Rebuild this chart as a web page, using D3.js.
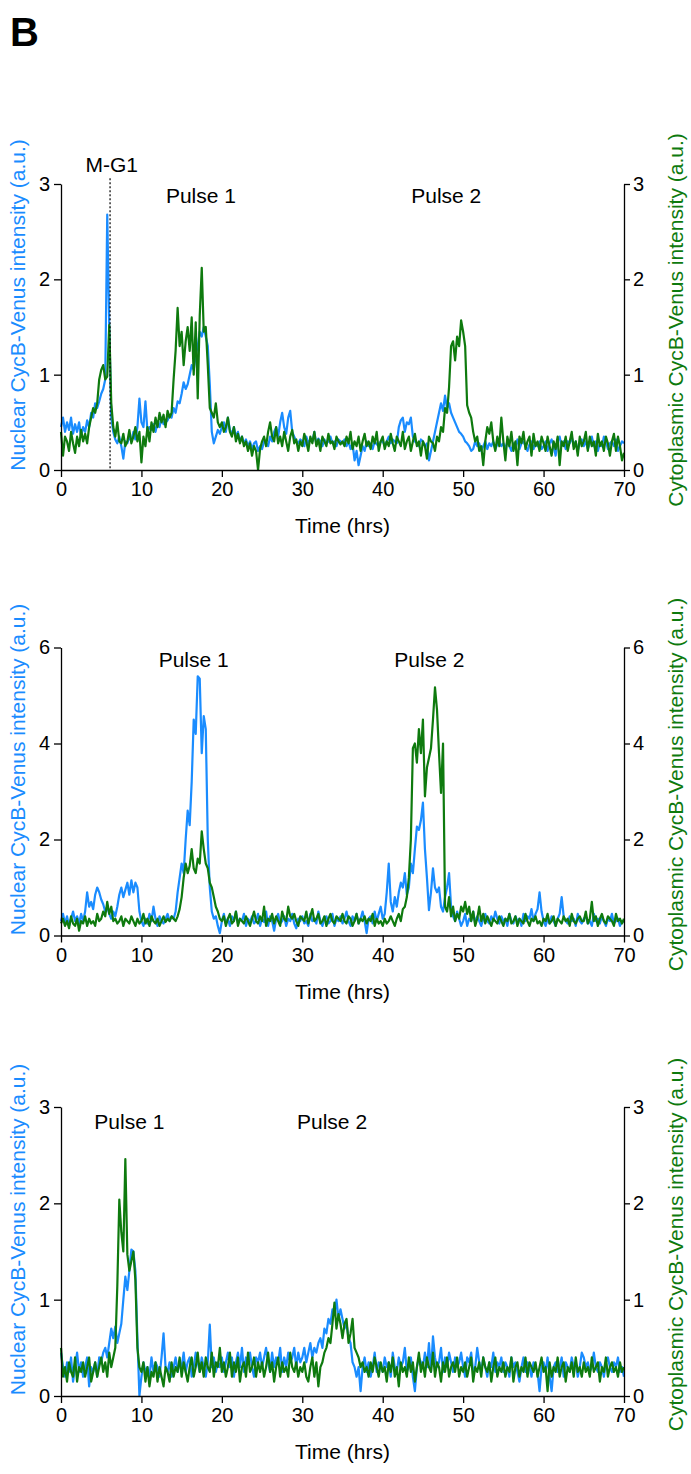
<!DOCTYPE html>
<html>
<head>
<meta charset="utf-8">
<script src="https://cdn.jsdelivr.net/npm/d3@7"></script>
<style>
  body { margin: 0; background: #fff; }
  svg { display: block; }
  text { font-family: "Liberation Sans", Arial, sans-serif; }
</style>
</head>
<body>
<div id="chart"></div>
<script>
const width = 691;
const height = 1474;
const step = 0.25; // hrs between samples

const xTicks = [0, 10, 20, 30, 40, 50, 60, 70];
const yTicks3 = [0, 1, 2, 3];
const yTicks6 = [0, 2, 4, 6];

// --- Panel 1 ---
const nuclear1 = [
  0.45,0.55,0.4,0.5,0.42,0.55,0.38,0.48,0.4,0.5,0.35,0.45,0.4,0.52,0.45,0.6,0.55,0.7,0.65,0.72,
  0.8,0.85,0.95,2.68,1.5,0.55,0.4,0.32,0.28,0.35,0.25,0.12,0.3,0.28,0.35,0.3,0.4,0.32,0.45,0.75,
  0.5,0.45,0.72,0.4,0.45,0.42,0.48,0.4,0.5,0.45,0.55,0.48,0.5,0.52,0.58,0.55,0.65,0.6,0.72,0.7,
  0.8,0.92,0.85,0.9,1.0,1.1,1.05,1.2,1.3,1.45,1.4,1.5,1.4,1.3,0.9,0.4,0.28,0.35,0.42,0.38,
  0.45,0.5,0.4,0.55,0.42,0.38,0.45,0.35,0.4,0.3,0.35,0.28,0.32,0.25,0.3,0.22,0.28,0.3,0.2,0.25,
  0.22,0.3,0.28,0.25,0.35,0.3,0.4,0.45,0.35,0.5,0.6,0.45,0.38,0.55,0.62,0.4,0.35,0.3,0.28,0.32,
  0.3,0.25,0.35,0.28,0.32,0.3,0.4,0.27,0.33,0.3,0.25,0.32,0.28,0.3,0.35,0.28,0.3,0.25,0.32,0.3,
  0.28,0.32,0.25,0.3,0.22,0.28,0.1,0.2,0.05,0.15,0.25,0.2,0.3,0.25,0.28,0.22,0.3,0.27,0.25,0.3,
  0.3,0.25,0.3,0.35,0.28,0.32,0.3,0.28,0.45,0.52,0.55,0.4,0.5,0.48,0.55,0.35,0.3,0.28,0.25,0.32,
  0.3,0.25,0.28,0.1,0.2,0.3,0.4,0.5,0.6,0.7,0.62,0.78,0.65,0.7,0.6,0.55,0.5,0.45,0.4,0.38,
  0.35,0.3,0.28,0.25,0.2,0.22,0.3,0.25,0.28,0.2,0.25,0.3,0.22,0.28,0.25,0.3,0.22,0.27,0.3,0.25,
  0.28,0.22,0.3,0.25,0.2,0.28,0.25,0.32,0.22,0.28,0.3,0.25,0.2,0.27,0.3,0.22,0.28,0.25,0.3,0.22,
  0.25,0.3,0.2,0.28,0.32,0.25,0.15,0.3,0.35,0.25,0.3,0.22,0.3,0.28,0.35,0.25,0.3,0.2,0.28,0.32,
  0.25,0.3,0.22,0.28,0.35,0.25,0.3,0.2,0.28,0.25,0.35,0.3,0.22,0.28,0.3,0.25,0.32,0.2,0.25,0.3,
  0.28
];
const cyto1 = [
  0.4,0.15,0.35,0.3,0.2,0.4,0.28,0.18,0.35,0.25,0.42,0.3,0.38,0.28,0.45,0.55,0.65,0.6,0.7,0.95,
  1.05,1.1,0.95,0.98,1.52,0.7,0.45,0.35,0.5,0.3,0.28,0.38,0.25,0.3,0.42,0.28,0.35,0.45,0.3,0.4,
  0.08,0.35,0.25,0.45,0.3,0.5,0.4,0.55,0.45,0.6,0.5,0.58,0.45,0.62,0.55,0.6,0.95,1.25,1.7,1.3,
  1.45,1.1,1.35,1.5,1.25,1.6,1.0,1.55,0.75,1.62,2.12,1.45,1.5,1.1,0.65,0.6,0.55,0.7,0.5,0.45,
  0.5,0.4,0.45,0.55,0.4,0.35,0.45,0.3,0.38,0.28,0.35,0.25,0.3,0.2,0.28,0.15,0.25,0.2,0.0,0.22,
  0.3,0.35,0.25,0.4,0.5,0.35,0.3,0.45,0.28,0.35,0.25,0.4,0.3,0.2,0.35,0.42,0.28,0.32,0.2,0.3,
  0.25,0.38,0.3,0.2,0.35,0.28,0.4,0.25,0.32,0.2,0.35,0.3,0.25,0.38,0.28,0.3,0.22,0.35,0.3,0.27,
  0.3,0.25,0.35,0.28,0.4,0.22,0.3,0.25,0.35,0.2,0.3,0.38,0.25,0.3,0.22,0.35,0.28,0.4,0.2,0.3,
  0.35,0.22,0.3,0.25,0.38,0.28,0.2,0.35,0.3,0.25,0.4,0.22,0.3,0.35,0.2,0.3,0.38,0.25,0.3,0.15,
  0.3,0.25,0.12,0.35,0.3,0.28,0.2,0.35,0.3,0.45,0.4,0.65,0.6,0.87,1.3,1.35,1.15,1.4,1.3,1.57,
  1.45,1.3,0.68,0.6,0.55,0.4,0.3,0.35,0.2,0.25,0.05,0.3,0.45,0.38,0.5,0.3,0.2,0.35,0.25,0.55,
  0.3,0.1,0.35,0.25,0.4,0.2,0.3,0.05,0.35,0.28,0.4,0.22,0.3,0.35,0.15,0.38,0.25,0.3,0.2,0.35,
  0.28,0.2,0.35,0.25,0.15,0.3,0.22,0.35,0.05,0.3,0.25,0.35,0.2,0.3,0.4,0.22,0.3,0.15,0.35,0.25,
  0.3,0.4,0.2,0.35,0.25,0.3,0.15,0.38,0.25,0.3,0.2,0.35,0.28,0.15,0.3,0.38,0.2,0.35,0.25,0.1,
  0.18
];

// --- Panel 2 ---
const nuclear2 = [
  0.3,0.45,0.25,0.4,0.2,0.35,0.5,0.3,0.4,0.25,0.45,0.3,0.5,0.9,0.6,0.7,0.55,0.85,1.0,0.9,
  0.75,0.65,0.5,0.6,0.45,0.35,0.5,0.4,0.6,0.85,1.0,0.8,0.95,1.1,0.85,1.15,0.9,1.1,1.0,0.5,
  0.3,0.2,0.35,0.25,0.45,0.3,0.6,0.35,0.2,0.4,0.3,0.25,0.35,0.45,0.3,0.4,0.35,0.5,0.9,1.2,
  1.5,1.3,2.0,2.6,2.3,3.2,4.5,4.2,5.4,5.35,3.8,4.57,4.3,2.0,1.0,0.5,0.35,0.4,0.2,0.05,
  0.3,0.45,0.25,0.35,0.2,0.4,0.3,0.5,0.25,0.35,0.3,0.45,0.2,0.35,0.28,0.4,0.25,0.3,0.45,0.2,
  0.35,0.28,0.5,0.2,0.4,0.3,0.1,0.35,0.45,0.25,0.3,0.4,0.2,0.35,0.3,0.45,0.25,0.15,0.35,0.3,
  0.4,0.25,0.3,0.2,0.45,0.3,0.35,0.25,0.5,0.3,0.2,0.35,0.4,0.25,0.3,0.45,0.2,0.35,0.3,0.4,
  0.25,0.35,0.5,0.3,0.2,0.4,0.3,0.45,0.25,0.35,0.5,0.3,0.05,0.35,0.4,0.25,0.5,0.3,0.45,0.6,
  0.35,0.45,0.9,1.5,0.7,0.5,0.8,0.6,0.9,1.1,1.0,1.3,0.85,1.0,1.5,1.3,1.8,2.27,2.2,2.4,
  2.77,1.8,1.2,0.53,0.9,1.4,1.0,0.9,1.0,0.6,0.5,0.8,1.0,1.3,0.6,0.4,0.3,0.5,0.35,0.2,
  0.3,0.45,0.2,0.35,0.3,0.5,0.25,0.4,0.3,0.2,0.35,0.45,0.3,0.25,0.4,0.3,0.5,0.35,0.25,0.4,
  0.3,0.35,0.2,0.45,0.3,0.25,0.4,0.3,0.35,0.2,0.45,0.3,0.4,0.35,0.55,0.3,0.45,0.55,0.9,0.5,
  0.3,0.2,0.35,0.25,0.4,0.3,0.2,0.35,0.45,0.8,0.4,0.3,0.25,0.4,0.3,0.35,0.2,0.45,0.3,0.25,
  0.35,0.4,0.25,0.3,0.2,0.45,0.3,0.35,0.25,0.4,0.3,0.2,0.35,0.3,0.45,0.25,0.3,0.35,0.2,0.3,
  0.28
];
const cyto2 = [
  0.25,0.35,0.2,0.3,0.15,0.4,0.25,0.2,0.35,0.1,0.3,0.25,0.4,0.2,0.35,0.25,0.3,0.2,0.45,0.3,
  0.35,0.5,0.4,0.7,0.45,0.6,0.3,0.35,0.25,0.3,0.4,0.2,0.35,0.3,0.25,0.4,0.3,0.2,0.35,0.25,
  0.3,0.45,0.25,0.35,0.2,0.4,0.3,0.25,0.35,0.2,0.3,0.4,0.28,0.35,0.3,0.4,0.35,0.3,0.4,0.55,
  0.8,1.2,1.5,1.3,1.45,1.8,1.4,1.3,1.6,1.5,2.17,1.8,1.5,1.4,1.1,1.0,0.8,0.6,0.5,0.35,
  0.3,0.4,0.2,0.35,0.45,0.25,0.3,0.5,0.2,0.35,0.3,0.25,0.4,0.3,0.2,0.35,0.5,0.3,0.25,0.4,
  0.3,0.6,0.2,0.35,0.3,0.45,0.25,0.4,0.3,0.2,0.5,0.35,0.3,0.6,0.4,0.35,0.45,0.3,0.2,0.4,
  0.35,0.3,0.5,0.25,0.4,0.55,0.3,0.35,0.45,0.25,0.3,0.4,0.2,0.35,0.45,0.3,0.25,0.4,0.35,0.3,
  0.45,0.3,0.25,0.4,0.35,0.2,0.3,0.45,0.25,0.35,0.3,0.4,0.25,0.35,0.3,0.45,0.2,0.35,0.25,0.3,
  0.2,0.35,0.25,0.3,0.4,0.3,0.2,0.35,0.45,0.3,0.55,0.6,0.8,1.2,2.0,3.9,4.0,3.6,4.3,3.8,
  4.5,2.9,3.5,3.7,3.9,4.5,5.17,4.7,3.8,2.97,4.0,0.6,0.5,0.8,0.4,0.6,0.3,0.45,0.35,0.6,
  0.5,0.7,0.45,0.6,0.3,0.5,0.2,0.35,0.6,0.3,0.45,0.25,0.4,0.3,0.2,0.35,0.3,0.25,0.4,0.3,
  0.2,0.35,0.3,0.45,0.25,0.3,0.4,0.2,0.35,0.3,0.25,0.45,0.3,0.2,0.35,0.3,0.4,0.25,0.3,0.2,
  0.35,0.3,0.45,0.25,0.3,0.4,0.2,0.35,0.3,0.25,0.4,0.3,0.35,0.2,0.45,0.3,0.25,0.35,0.4,0.3,
  0.3,0.5,0.25,0.35,0.7,0.3,0.4,0.2,0.35,0.45,0.3,0.25,0.4,0.35,0.3,0.2,0.45,0.3,0.35,0.25,
  0.35
];

// --- Panel 3 ---
const nuclear3 = [
  0.45,0.3,0.2,0.35,0.25,0.4,0.15,0.3,0.45,0.25,0.35,0.2,0.3,0.4,0.1,0.3,0.25,0.35,0.2,0.4,
  0.35,0.45,0.5,0.4,0.55,0.7,0.6,0.72,0.55,0.65,0.75,1.0,1.24,1.1,1.3,1.52,1.5,1.3,0.6,0.0,
  0.2,0.35,0.25,0.3,0.2,0.4,0.25,0.35,0.3,0.2,0.4,0.65,0.3,0.25,0.35,0.2,0.3,0.4,0.25,0.35,
  0.3,0.45,0.25,0.35,0.4,0.2,0.3,0.45,0.35,0.25,0.4,0.3,0.2,0.35,0.74,0.3,0.4,0.25,0.35,0.3,
  0.4,0.25,0.35,0.45,0.3,0.4,0.2,0.35,0.45,0.3,0.5,0.25,0.4,0.35,0.45,0.3,0.2,0.4,0.35,0.45,
  0.3,0.4,0.5,0.35,0.25,0.45,0.3,0.4,0.35,0.5,0.25,0.4,0.3,0.45,0.35,0.4,0.5,0.3,0.45,0.35,
  0.4,0.5,0.35,0.45,0.55,0.4,0.5,0.45,0.55,0.6,0.5,0.7,0.65,0.8,0.75,0.9,0.85,1.0,0.8,0.9,
  0.8,0.7,0.75,0.6,0.55,0.35,0.3,0.2,0.3,0.05,0.3,0.4,0.25,0.35,0.2,0.3,0.45,0.25,0.35,0.3,
  0.25,0.4,0.3,0.35,0.2,0.45,0.3,0.25,0.4,0.3,0.35,0.5,0.25,0.3,0.4,0.2,0.05,0.3,0.4,0.35,
  0.3,0.45,0.3,0.55,0.25,0.62,0.4,0.3,0.35,0.5,0.25,0.4,0.3,0.45,0.35,0.25,0.4,0.3,0.35,0.45,
  0.3,0.2,0.4,0.35,0.45,0.25,0.3,0.5,0.35,0.25,0.4,0.3,0.2,0.35,0.3,0.45,0.25,0.35,0.3,0.4,
  0.25,0.35,0.3,0.2,0.4,0.3,0.35,0.25,0.15,0.3,0.4,0.25,0.35,0.3,0.2,0.35,0.3,0.25,0.05,0.3,
  0.35,0.25,0.4,0.2,0.05,0.3,0.35,0.25,0.3,0.4,0.2,0.35,0.3,0.25,0.4,0.3,0.35,0.2,0.3,0.45,
  0.4,0.3,0.35,0.25,0.3,0.45,0.3,0.25,0.35,0.3,0.2,0.35,0.4,0.3,0.25,0.35,0.3,0.4,0.25,0.3,
  0.2
];
const cyto3 = [
  0.5,0.2,0.3,0.15,0.35,0.25,0.2,0.4,0.15,0.3,0.25,0.35,0.2,0.3,0.4,0.15,0.25,0.35,0.2,0.3,
  0.4,0.25,0.35,0.2,0.45,0.3,0.4,0.5,1.14,2.04,1.7,1.5,2.46,1.47,1.3,1.4,1.5,1.2,0.5,0.3,
  0.25,0.35,0.15,0.3,0.1,0.25,0.2,0.35,0.15,0.3,0.2,0.1,0.3,0.25,0.15,0.35,0.2,0.3,0.25,0.4,
  0.2,0.35,0.25,0.15,0.3,0.4,0.2,0.3,0.45,0.25,0.35,0.2,0.4,0.3,0.25,0.45,0.2,0.35,0.3,0.5,
  0.25,0.35,0.2,0.3,0.45,0.2,0.35,0.25,0.4,0.15,0.3,0.35,0.2,0.45,0.25,0.3,0.4,0.2,0.35,0.25,
  0.35,0.2,0.3,0.45,0.25,0.35,0.15,0.3,0.4,0.2,0.35,0.25,0.3,0.2,0.45,0.3,0.25,0.35,0.2,0.3,
  0.25,0.35,0.2,0.15,0.3,0.4,0.2,0.35,0.1,0.3,0.35,0.45,0.5,0.6,0.55,0.75,0.97,0.7,0.85,0.75,
  0.6,0.75,0.8,0.55,0.65,0.8,0.5,0.45,0.4,0.3,0.35,0.25,0.3,0.2,0.35,0.25,0.4,0.3,0.2,0.35,
  0.25,0.3,0.15,0.35,0.25,0.4,0.2,0.3,0.1,0.35,0.25,0.3,0.2,0.4,0.25,0.35,0.15,0.3,0.45,0.25,
  0.35,0.2,0.4,0.3,0.25,0.45,0.2,0.35,0.3,0.15,0.35,0.25,0.4,0.2,0.3,0.35,0.25,0.4,0.2,0.3,
  0.25,0.35,0.2,0.3,0.4,0.15,0.3,0.25,0.35,0.2,0.4,0.3,0.25,0.35,0.15,0.3,0.4,0.2,0.3,0.25,
  0.35,0.2,0.3,0.25,0.4,0.15,0.3,0.35,0.2,0.3,0.25,0.4,0.2,0.35,0.3,0.25,0.35,0.2,0.3,0.4,
  0.25,0.3,0.05,0.35,0.2,0.3,0.25,0.4,0.2,0.3,0.35,0.15,0.3,0.25,0.35,0.2,0.4,0.25,0.3,0.2,
  0.35,0.25,0.3,0.2,0.4,0.25,0.3,0.35,0.15,0.3,0.25,0.4,0.2,0.3,0.35,0.25,0.3,0.2,0.35,0.25,
  0.3
];

// Annotation text and where (time, value) it sits
const notes1 = [{ t: 6.3, v: 3.13, text: "M-G1" }, { t: 17.4, v: 2.8, text: "Pulse 1" }, { t: 47.9, v: 2.8, text: "Pulse 2" }];
const notes2 = [{ t: 16.5, v: 5.6, text: "Pulse 1" }, { t: 45.8, v: 5.6, text: "Pulse 2" }];
const notes3 = [{ t: 8.5, v: 2.77, text: "Pulse 1" }, { t: 33.7, v: 2.77, text: "Pulse 2" }];
const mitosisTime = 6.1;

const blue = "#1a8cff";
const green = "#0e7a0e";

const panels = [
  { nuc: nuclear1, cyt: cyto1, yMax: 3, yTicks: yTicks3, top: 184, bottom: 470, notes: notes1, mg1: true },
  { nuc: nuclear2, cyt: cyto2, yMax: 6, yTicks: yTicks6, top: 647.5, bottom: 935.5, notes: notes2 },
  { nuc: nuclear3, cyt: cyto3, yMax: 3, yTicks: yTicks3, top: 1107, bottom: 1396, notes: notes3 }
];

const svg = d3.create("svg")
    .attr("width", width)
    .attr("height", height);

svg.append("text")
    .attr("x", 10)
    .attr("y", 46)
    .attr("font-size", 40)
    .attr("font-weight", "bold")
    .text("B");

const x = d3.scaleLinear().domain([0, 70]).range([61, 624]);

panels.forEach(p => {
  const y = d3.scaleLinear().domain([0, p.yMax]).range([p.bottom, p.top]);
  const g = svg.append("g");

  const line = d3.line()
      .x((d, i) => x(i * step))
      .y(d => y(d));

  g.append("path")
      .datum(p.nuc)
      .attr("fill", "none")
      .attr("stroke", blue)
      .attr("stroke-width", 2.2)
      .attr("stroke-linejoin", "round")
      .attr("d", line);

  g.append("path")
      .datum(p.cyt)
      .attr("fill", "none")
      .attr("stroke", green)
      .attr("stroke-width", 2.2)
      .attr("stroke-linejoin", "round")
      .attr("d", line);

  // axes
  const fmt = d3.format("d");
  const xAxis = g.append("g")
      .attr("transform", `translate(0,${p.bottom})`)
      .call(d3.axisBottom(x).tickValues(xTicks).tickFormat(fmt).tickSize(7).tickSizeOuter(0).tickPadding(5));
  const yLeft = g.append("g")
      .attr("transform", `translate(${x(0)},0)`)
      .call(d3.axisLeft(y).tickValues(p.yTicks).tickFormat(fmt).tickSize(7).tickSizeOuter(0).tickPadding(4));
  const yRight = g.append("g")
      .attr("transform", `translate(${x(70)},0)`)
      .call(d3.axisRight(y).tickValues(p.yTicks).tickFormat(fmt).tickSize(6).tickSizeOuter(0).tickPadding(3));

  [xAxis, yLeft, yRight].forEach(a => {
    a.selectAll("text").attr("font-size", 20).attr("fill", "#000")
        .attr("font-family", "'Liberation Sans', Arial, sans-serif");
    a.selectAll("line, path").attr("stroke", "#000").attr("stroke-width", 1.3);
  });

  g.append("text")
      .attr("x", (x(0) + x(70)) / 2)
      .attr("y", p.bottom + 63)
      .attr("text-anchor", "middle")
      .attr("font-size", 21)
      .text("Time (hrs)");

  const mid = (p.top + p.bottom) / 2;
  g.append("text")
      .attr("transform", `translate(18,${mid - 22}) rotate(-90)`)
      .attr("dy", "0.35em")
      .attr("text-anchor", "middle")
      .attr("font-size", 21)
      .attr("fill", blue)
      .text("Nuclear CycB-Venus intensity (a.u.)");

  g.append("text")
      .attr("transform", `translate(676,${mid - 7}) rotate(-90)`)
      .attr("dy", "0.35em")
      .attr("text-anchor", "middle")
      .attr("font-size", 21)
      .attr("fill", green)
      .text("Cytoplasmic CycB-Venus intensity (a.u.)");

  g.selectAll(".note")
    .data(p.notes)
    .join("text")
      .attr("class", "note")
      .attr("x", d => x(d.t))
      .attr("y", d => y(d.v))
      .attr("text-anchor", "middle")
      .attr("font-size", 21)
      .text(d => d.text);

  if (p.mg1) {
    g.append("line")
        .attr("x1", x(mitosisTime)).attr("x2", x(mitosisTime))
        .attr("y1", y(3.06)).attr("y2", y(0))
        .attr("stroke", "#000")
        .attr("stroke-width", 1.2)
        .attr("stroke-dasharray", "2,2");
  }
});

document.querySelector("#chart").append(svg.node());
</script>
</body>
</html>
